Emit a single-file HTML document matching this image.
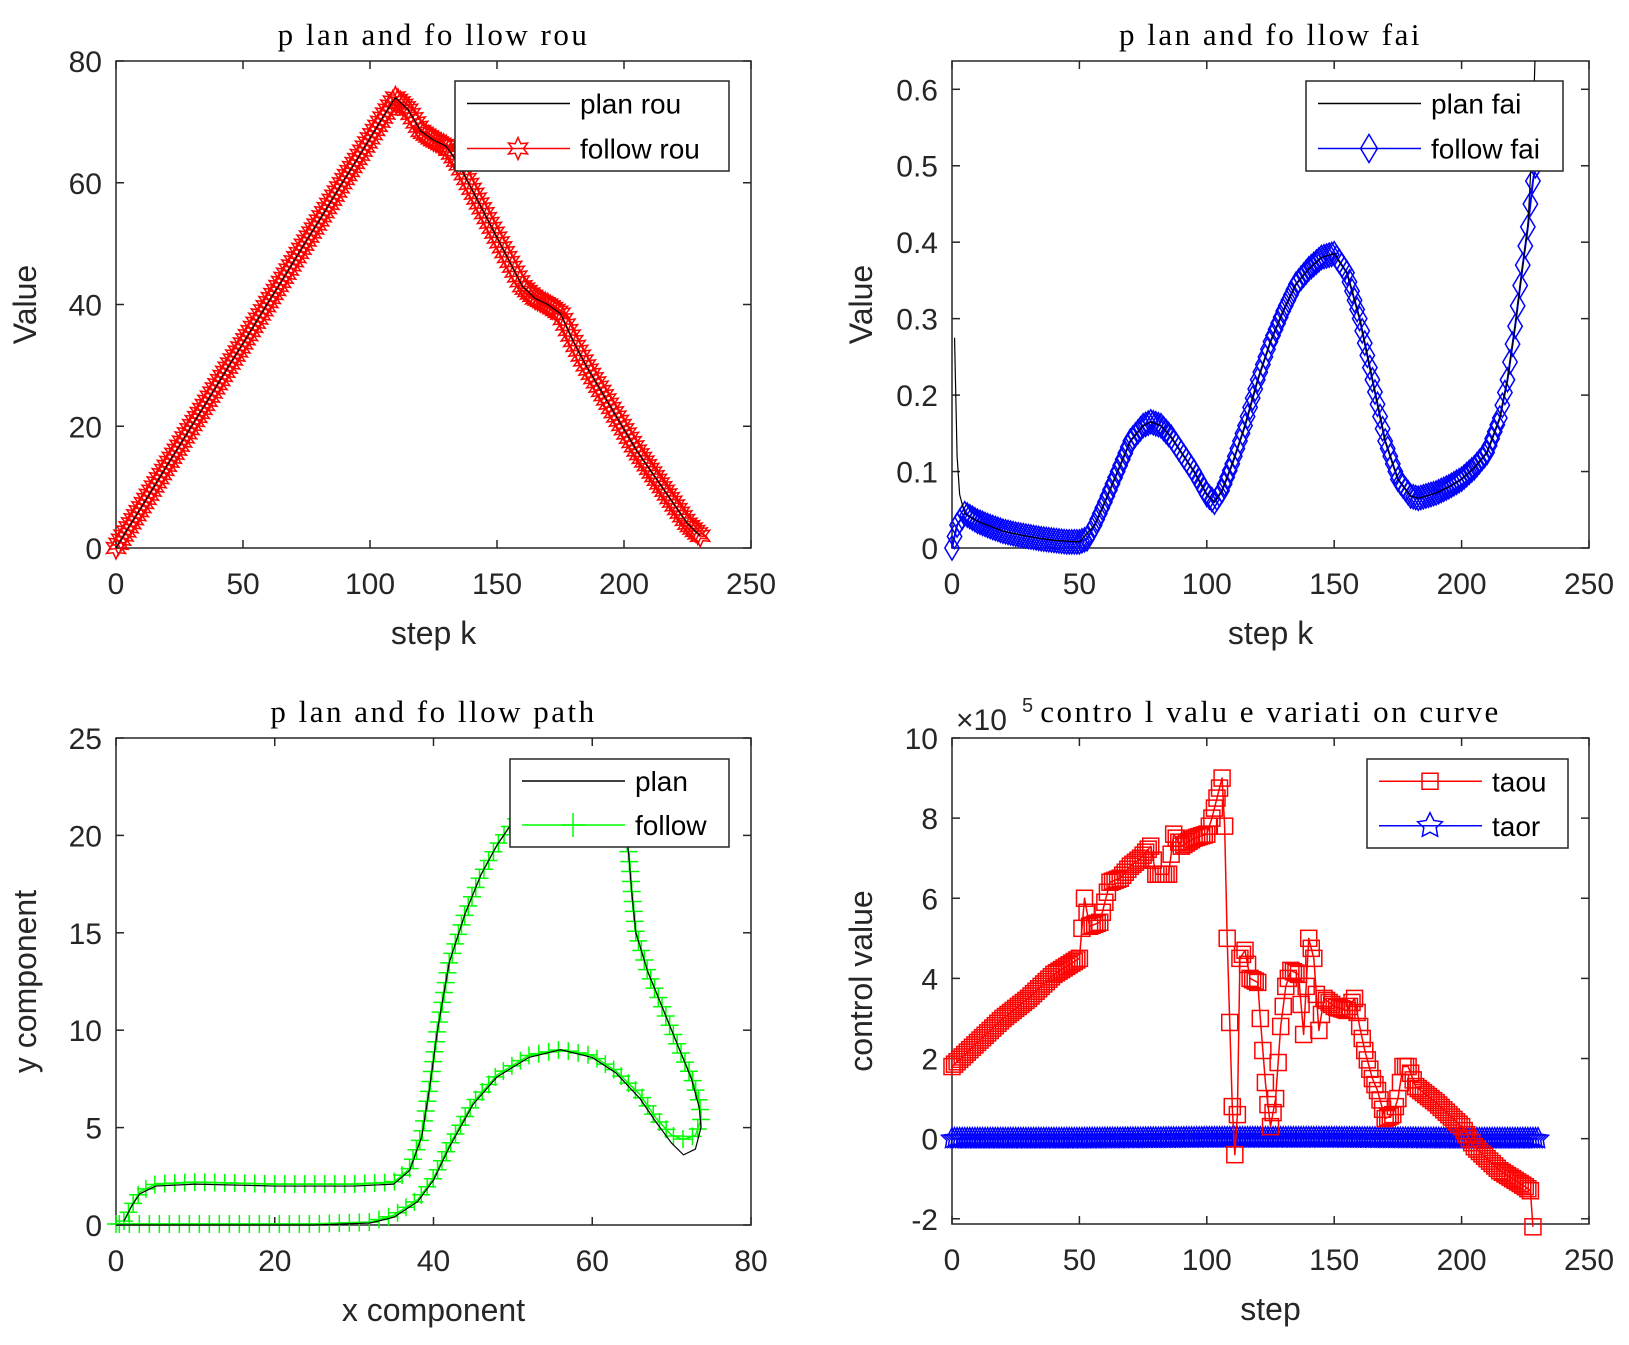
<!DOCTYPE html>
<html><head><meta charset="utf-8"><style>
body{margin:0;background:#fff;}
svg{display:block;}
text{font-family:"Liberation Sans",Arial,sans-serif;fill:#262626;}
.ttl{font-family:"Liberation Serif",serif;font-size:31px;letter-spacing:2.5px;fill:#000;}
.tk{font-size:30px;}
.lbl{font-size:32px;}
.lg{font-size:28px;fill:#000;}
</style></head><body>
<svg id="fig" width="1629" height="1345" viewBox="0 0 1629 1345" xmlns="http://www.w3.org/2000/svg"></svg>
<script>
// ---- data: rou ----
const rouK=[0,5,10,15,20,25,30,35,40,45,50,55,60,65,70,75,80,85,90,95,100,105,110,115,120,125,130,135,140,145,150,155,160,165,170,175,180,185,190,195,200,205,210,215,220,225,230];
const rouPlan=[0,3.4,6.7,10.1,13.5,16.8,20.2,23.5,26.9,30.3,33.6,37,40.4,43.7,47.1,50.5,53.8,57.2,60.6,63.9,67.3,70.7,74,72,68.5,67,66,63,59,55,51,47,43,41,40,38.5,34,30,26.5,23,19.5,16,13,10,7,4,2];
const rouFollow=[0,3.4,6.7,10.1,13.5,16.8,20.2,23.5,26.9,30.3,33.6,37,40.4,43.7,47.1,50.5,53.8,57.2,60.6,63.9,67.3,70.7,74,72,68.5,67,66,63,59,55,51,47,43,41,40,38.5,34,30,26.5,23,19.5,16,13,10,7,4,2];
// ---- data: fai ----
const faiK=[0,2,5,10,15,20,25,30,35,40,45,50,53,56,60,65,70,75,78,82,86,90,95,100,103,106,110,115,120,125,130,135,140,145,150,155,160,165,170,175,180,183,186,190,195,200,205,210,215,218,221,224,226,228,229];
const faiFollow=[0,0.03,0.045,0.035,0.028,0.022,0.018,0.015,0.012,0.01,0.008,0.008,0.012,0.03,0.06,0.1,0.14,0.16,0.165,0.16,0.145,0.125,0.1,0.07,0.06,0.075,0.11,0.16,0.22,0.27,0.31,0.345,0.365,0.38,0.385,0.36,0.3,0.22,0.14,0.09,0.068,0.065,0.068,0.072,0.08,0.09,0.105,0.125,0.17,0.22,0.29,0.37,0.42,0.48,0.5];
const faiPlanK=[1,2,3,5,10,20,30,40,50,56,60,65,70,75,78,82,86,90,95,100,103,106,110,115,120,125,130,135,140,145,150,155,160,165,170,175,180,183,186,190,195,200,205,210,215,218,221,224,226,228,229];
const faiPlan=[0.275,0.12,0.07,0.045,0.035,0.022,0.015,0.01,0.008,0.03,0.06,0.1,0.14,0.16,0.165,0.16,0.145,0.125,0.1,0.07,0.06,0.075,0.11,0.16,0.22,0.27,0.31,0.345,0.365,0.38,0.385,0.36,0.3,0.22,0.14,0.09,0.068,0.065,0.068,0.072,0.08,0.09,0.105,0.125,0.17,0.22,0.29,0.37,0.42,0.55,0.66];
// ---- data: path ----
const pathX=[1,2,3,5,10,20,30,35,37,38.5,39.5,40.5,42,44,46,48,50,53,57,61,64,64.6,65,65.5,67,69,71,72.5,73.5,73.7,73,71.5,70,68,66,63,60,56,52,48,45,42,40,38,35,32,25,15,5,0];
const pathPlanY=[0.2,1,1.6,2,2.1,2,2,2.1,2.8,4.5,7,10,13.5,16,18,19.5,20.7,21.8,22.3,22,21,19,17,15,13,11,9,7.5,6,5,3.9,3.6,4.2,5.3,6.5,7.8,8.6,9,8.6,7.6,6.2,4,2.3,1.2,0.4,0.1,0,0,0,0];
const pathFollowY=[0.2,1,1.7,2.1,2.2,2.1,2.1,2.2,2.9,4.6,7,10,13.5,16,18,19.5,20.7,21.8,22.3,22,21,19,17,15,13,11,9,7.6,6.3,5.4,4.6,4.4,4.6,5.5,6.7,7.9,8.7,9,8.7,7.7,6.3,4.1,2.4,1.3,0.5,0.15,0.05,0.05,0.05,0.05];
// ---- data: control ----
const ctrlK=[0,5,10,20,30,40,50,52,54,58,60,62,66,70,74,78,80,82,85,87,90,95,100,102,104,106,107,108,110,111,112,113,115,117,120,121,123,125,127,129,131,133,136,138,140,142,144,146,150,155,158,160,162,165,167,170,173,175,177,179,182,190,200,205,215,225,227,228];
const taou=[1.8,2.1,2.4,3.0,3.5,4.1,4.5,6.0,5.3,5.4,5.9,6.4,6.5,6.8,7.0,7.3,6.6,6.6,6.6,7.6,7.3,7.5,7.6,8.0,8.5,9.0,7.8,5.0,0.8,-0.4,0.6,4.5,4.7,4.0,3.9,3.0,1.4,0.3,1.0,2.8,3.8,4.2,4.1,2.6,5.0,4.5,2.7,3.5,3.3,3.2,3.5,2.8,2.2,1.5,1.2,0.5,0.6,1.0,1.8,1.8,1.3,0.9,0.3,-0.2,-0.8,-1.2,-1.3,-2.2];
const taorK=[0,50,100,150,200,230];
const taor=[0,0,0.02,0.02,0,0];

const NS="http://www.w3.org/2000/svg";
const fig=document.getElementById('fig');
function mk(tag,attrs,parent){const e=document.createElementNS(NS,tag);for(const k in attrs)e.setAttribute(k,attrs[k]);(parent||fig).appendChild(e);return e;}
function axes(name,L,R,T,B,x0,x1,y0,y1,xt,yt,title,xl,yl){
  const g=mk('g',{});
  
  
  const sx=v=>L+(v-x0)/(x1-x0)*(R-L), sy=v=>B-(v-y0)/(y1-y0)*(B-T);
  const box=mk('rect',{x:L,y:T,width:R-L,height:B-T,fill:'#fff',stroke:'#262626','stroke-width':1.5},g);
  
  
  xt.forEach(v=>{const x=sx(v);
    mk('line',{x1:x,x2:x,y1:B,y2:B-8,stroke:'#262626','stroke-width':1.5},g);
    mk('line',{x1:x,x2:x,y1:T,y2:T+8,stroke:'#262626','stroke-width':1.5},g);
    const t=mk('text',{x:x,y:B+46,'text-anchor':'middle',class:'tk'},g);t.textContent=v;
    
    });
  yt.forEach(v=>{const y=sy(v);
    mk('line',{x1:L,x2:L+8,y1:y,y2:y,stroke:'#262626','stroke-width':1.5},g);
    mk('line',{x1:R,x2:R-8,y1:y,y2:y,stroke:'#262626','stroke-width':1.5},g);
    const t=mk('text',{x:L-14,y:y+11,'text-anchor':'end',class:'tk'},g);t.textContent=v;
    
    });
  const tt=mk('text',{x:(L+R)/2,y:T-16,'text-anchor':'middle',class:'ttl'},g);tt.textContent=title;
  
  
  const xa=mk('text',{x:(L+R)/2,y:B+96,'text-anchor':'middle',class:'lbl'},g);xa.textContent=xl;
  
  
  const cy=(T+B)/2, cx=L-80;
  const ya=mk('text',{x:cx,y:cy,'text-anchor':'middle',class:'lbl',transform:`rotate(-90 ${cx} ${cy})`},g);ya.textContent=yl;
  
  
  return {sx,sy,g};
}
function pts(ax,xs,ys){return xs.map((x,i)=>[ax.sx(x),ax.sy(ys[i])]);}
function line(ax,P,color,w,name){const l=mk('polyline',{points:P.map(p=>p.join(',')).join(' '),fill:'none',stroke:color,'stroke-width':w,'stroke-linejoin':'round'},ax.g);
  
  return l;}
function along(P,sp){const out=[];let acc=0;out.push(P[0]);
  for(let i=1;i<P.length;i++){const dx=P[i][0]-P[i-1][0],dy=P[i][1]-P[i-1][1],d=Math.hypot(dx,dy);
    let t=sp-acc;while(t<=d){out.push([P[i-1][0]+dx*t/d,P[i-1][1]+dy*t/d]);t+=sp;}acc=(acc+d)%sp;}
  out.push(P[P.length-1]);return out;}
// marker positions at each integer step k along a piecewise-linear series
function perStep(ax,ks,vs){const out=[];for(let i=0;i<ks.length-1;i++){for(let k=Math.ceil(ks[i]);k<ks[i+1];k++){const t=(k-ks[i])/(ks[i+1]-ks[i]);out.push([ax.sx(k),ax.sy(vs[i]+(vs[i+1]-vs[i])*t)]);}}
  out.push([ax.sx(ks[ks.length-1]),ax.sy(vs[vs.length-1])]);return out;}
function star(cx,cy,r,n){let s='';for(let i=0;i<2*n;i++){const a=Math.PI*i/n-Math.PI/2,rr=i%2?r*0.5:r;s+=(cx+rr*Math.cos(a))+','+(cy+rr*Math.sin(a))+' ';}return s;}
function markers(ax,P,type,color,size,name){const g=mk('g',{fill:'none',stroke:color,'stroke-width':1.5},ax.g);
  
  
  P.forEach(([x,y])=>{
    if(type==='hex')mk('polygon',{points:star(x,y,size,6)},g);
    else if(type==='star')mk('polygon',{points:star(x,y,size,5)},g);
    else if(type==='dia')mk('polygon',{points:`${x},${y-size} ${x+size*0.6},${y} ${x},${y+size} ${x-size*0.6},${y}`},g);
    else if(type==='sq')mk('rect',{x:x-size,y:y-size,width:2*size,height:2*size},g);
    else if(type==='plus'){mk('line',{x1:x-size,x2:x+size,y1:y,y2:y},g);mk('line',{x1:x,x2:x,y1:y-size,y2:y+size},g);}
  });}
function legend(L,T,R,B,items,name){const g=mk('g',{});
  
  
  mk('rect',{x:L,y:T,width:R-L,height:B-T,fill:'#fff',stroke:'#262626','stroke-width':1.5},g);
  const h=(B-T)/items.length;
  items.forEach((it,i)=>{const y=T+h*(i+0.5);
    const e=mk('g',{},g);
    
    
    mk('line',{x1:L+12,x2:L+115,y1:y,y2:y,stroke:it.c,'stroke-width':1.5},e);
    if(it.m){const ax={g:e};markers(ax,[[L+63,y]],it.m,it.c,it.s,'legend-marker');}
    const t=mk('text',{x:L+125,y:y+10,class:'lg'},e);t.textContent=it.t;});}

// ---- plot 1: rou ----
let a=axes('rou-chart',116,751,61,548,0,250,0,80,[0,50,100,150,200,250],[0,20,40,60,80],'p lan and fo llow  rou','step k','Value');
line(a,pts(a,rouK,rouFollow),'#ff0000',2,'follow-rou-line');
markers(a,perStep(a,rouK,rouFollow),'hex','#ff0000',11,'follow-rou-markers');
line(a,pts(a,rouK,rouPlan),'#000',1.2,'plan-rou-line');
legend(455,81,729,171,[{t:'plan rou',c:'#000'},{t:'follow rou',c:'#ff0000',m:'hex',s:11}],'rou-legend');

// ---- plot 2: fai ----
a=axes('fai-chart',952,1589,61,548,0,250,0,0.637,[0,50,100,150,200,250],[0,0.1,0.2,0.3,0.4,0.5,0.6],'p lan and fo llow  fai','step k','Value');
line(a,pts(a,faiK,faiFollow),'#0000ff',2,'follow-fai-line');
markers(a,perStep(a,faiK,faiFollow),'dia','#0000ff',12,'follow-fai-markers');
const cl2=mk('clipPath',{id:'cfai'});mk('rect',{x:952,y:61,width:637,height:487},cl2);
line(a,pts(a,faiPlanK,faiPlan),'#000',1.2,'plan-fai-line').setAttribute('clip-path','url(#cfai)');
legend(1306,81,1563,171,[{t:'plan fai',c:'#000'},{t:'follow fai',c:'#0000ff',m:'dia',s:14}],'fai-legend');

// ---- plot 3: path ----
a=axes('path-chart',116,751,738,1225,0,80,0,25,[0,20,40,60,80],[0,5,10,15,20,25],'p lan and fo llow  path','x component','y component');
let P=pts(a,pathX,pathFollowY);
line(a,P,'#00ff00',1.5,'follow-path-line');
markers(a,along(P,10),'plus','#00ff00',9,'follow-path-markers');
line(a,pts(a,pathX,pathPlanY),'#000',1.2,'plan-path-line');
legend(510,759,729,847,[{t:'plan',c:'#000'},{t:'follow',c:'#00ff00',m:'plus',s:12}],'path-legend');

// ---- plot 4: control ----
a=axes('control-chart',952,1589,738,1224,0,250,-2.13,10,[0,50,100,150,200,250],[-2,0,2,4,6,8,10],'contro l valu e variati on  curve','step','control value');
line(a,pts(a,taorK,taor),'#0000ff',1.5,'taor-line');
markers(a,perStep(a,taorK,taor),'star','#0000ff',11,'taor-markers');
line(a,pts(a,ctrlK,taou),'#ff0000',1.5,'taou-line');
markers(a,perStep(a,ctrlK,taou),'sq','#ff0000',8,'taou-markers');
legend(1367,759,1568,848,[{t:'taou',c:'#ff0000',m:'sq',s:8},{t:'taor',c:'#0000ff',m:'star',s:13}],'control-legend');
const ex=mk('text',{x:956,y:730,class:'tk'});ex.textContent='×10';


const e5=mk('text',{x:1022,y:712,style:'font-size:20px'});e5.textContent='5';


</script>
</body></html>
